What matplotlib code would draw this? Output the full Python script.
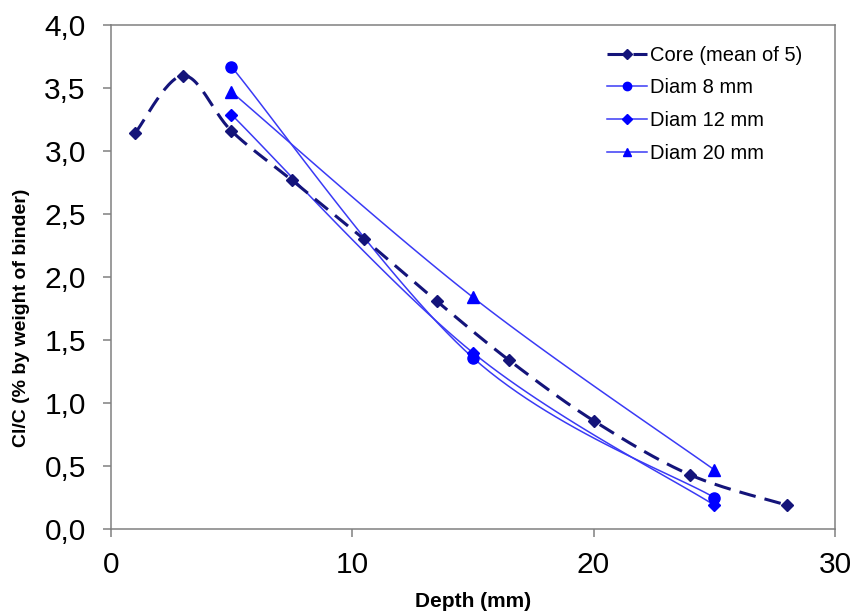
import numpy as np
import matplotlib
matplotlib.use("Agg")
import matplotlib.pyplot as plt
from matplotlib.ticker import FuncFormatter

plt.rcParams['font.family'] = ['Liberation Sans', 'DejaVu Sans']

# data
core_depth = [1, 3, 5, 7.5, 10.5, 13.5, 16.5, 20, 24, 28]
core_cl = [3.14, 3.60, 3.16, 2.77, 2.30, 1.81, 1.34, 0.86, 0.43, 0.19]

diam_depth = [5, 15, 25]
diam8_cl = [3.67, 1.36, 0.25]
diam12_cl = [3.29, 1.40, 0.19]
diam20_cl = [3.47, 1.84, 0.47]

x_ticks = [0, 10, 20, 30]
y_ticks = [0, 0.5, 1.0, 1.5, 2.0, 2.5, 3.0, 3.5, 4.0]


def smooth(ax, xs, ys, n=30):
    # Excel-style smoothed line: Catmull-Rom spline in screen space
    pts = ax.transData.transform(np.column_stack([xs, ys]))
    p = np.vstack([pts[0], pts, pts[-1]])
    out = []
    for i in range(1, len(p) - 2):
        p0, p1, p2, p3 = p[i - 1], p[i], p[i + 1], p[i + 2]
        c1 = p1 + (p2 - p0) / 6
        c2 = p2 - (p3 - p1) / 6
        t = np.linspace(0, 1, n)[:, None]
        seg = ((1 - t) ** 3) * p1 + 3 * ((1 - t) ** 2) * t * c1 + 3 * (1 - t) * t ** 2 * c2 + t ** 3 * p2
        out.append(seg if i == 1 else seg[1:])
    out = np.vstack(out)
    data = ax.transData.inverted().transform(out)
    return data[:, 0], data[:, 1]


fig = plt.figure(figsize=(8.52, 6.13), dpi=100)
ax = fig.add_axes([0.130, 0.137, 0.850, 0.822])
ax.set_xlim(0, 30)
ax.set_ylim(0, 4.0)

navy = '#14147a'
blue = '#0000ff'
line_blue = '#3a3af5'

# core
sx, sy = smooth(ax, core_depth, core_cl)
ax.plot(sx, sy, color=navy, lw=2.2, dashes=(5.5, 3), zorder=3)
ax.plot(core_depth, core_cl, ls='none', marker='D', ms=6.5, color=navy, zorder=4)
ax.plot([], [], color=navy, lw=2.2, dashes=(5.5, 3), marker='D', ms=5,
        label='Core (mean of 5)')

for vals, mk, ms, lab in [(diam8_cl, 'o', 8, 'Diam 8 mm'),
                          (diam12_cl, 'D', 6.5, 'Diam 12 mm'),
                          (diam20_cl, '^', 8, 'Diam 20 mm')]:
    sx, sy = smooth(ax, diam_depth, vals)
    ax.plot(sx, sy, color=line_blue, lw=1.1, zorder=2)
    ax.plot(diam_depth, vals, ls='none', marker=mk, ms=ms, color=blue, zorder=4)
    ax.plot([], [], color=line_blue, lw=1.1, marker=mk, ms=ms * 0.75,
            markerfacecolor=blue, markeredgecolor=blue, label=lab)

ax.set_xticks(x_ticks)
ax.set_yticks(y_ticks)
ax.yaxis.set_major_formatter(FuncFormatter(lambda v, p: f'{v:.1f}'.replace('.', ',')))
ax.tick_params(direction='out', length=6, width=1.1, color='#808080',
               labelsize=21.5, pad=10)
ax.tick_params(axis='y', pad=12)
for s in ax.spines.values():
    s.set_color('#808080')
    s.set_linewidth(1.1)

ax.set_xlabel('Depth (mm)', fontsize=15, fontweight='bold')
ax.set_ylabel('Cl/C (% by weight of binder)', fontsize=14, fontweight='bold')
ax.xaxis.set_label_coords(0.5, -0.125)
ax.yaxis.set_label_coords(-0.112, 0.42)

ax.legend(loc='upper left', bbox_to_anchor=(0.66, 0.995), frameon=False,
          fontsize=14.5, handlelength=2.0, handletextpad=0.15, labelspacing=0.68)

fig.savefig('out.png', dpi=100)
